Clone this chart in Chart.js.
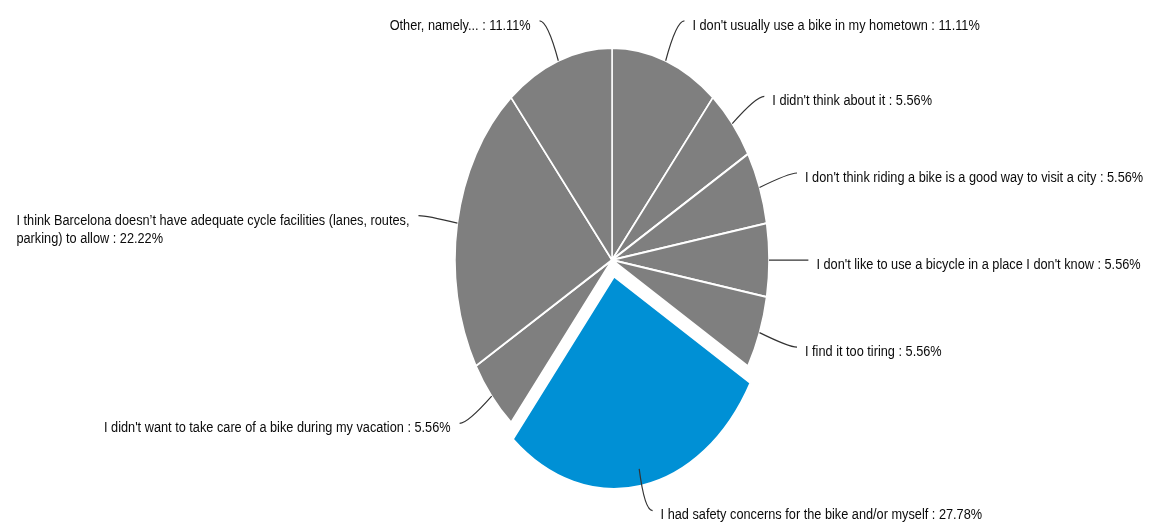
<!DOCTYPE html>
<html>
<head>
<meta charset="utf-8">
<script src="https://cdn.jsdelivr.net/npm/chart.js@4.4.1/dist/chart.umd.min.js"></script>
<style>
  html, body { margin: 0; padding: 0; background: #ffffff; }
  #wrap { width: 1152px; height: 525px; position: relative; }
</style>
</head>
<body>
<div id="wrap"><canvas id="c" width="1152" height="525"></canvas></div>
<script>
// ---- data ----
const categories = [
  "I don't usually use a bike in my hometown",
  "I didn't think about it",
  "I don't think riding a bike is a good way to visit a city",
  "I don't like to use a bicycle in a place I don't know",
  "I find it too tiring",
  "I had safety concerns for the bike and/or myself",
  "I didn't want to take care of a bike during my vacation",
  ["I think Barcelona doesn\u2019t have adequate cycle facilities (lanes, routes,", "parking) to allow"],
  "Other, namely..."
];
const percentages = [11.11, 5.56, 5.56, 5.56, 5.56, 27.78, 5.56, 22.22, 11.11];
const highlighted = [false, false, false, false, false, true, false, false, false];

// ---- styles ----
const GRAY = '#7f7f7f';
const BLUE = '#0090d5';
const Y_SCALE = 212 / 157;
const FONT = "14px 'Liberation Sans', Arial, sans-serif";
const NARROW = 0.91;

const ellipsePlugin = {
  id: 'ellipseLabels',
  beforeDatasetsDraw(chart) {
    const arc = chart.getDatasetMeta(0).data[0];
    const ctx = chart.ctx;
    ctx.save();
    ctx.translate(arc.x, arc.y);
    ctx.scale(1, Y_SCALE);
    ctx.translate(-arc.x, -arc.y);
  },
  afterDatasetsDraw(chart) {
    const ctx = chart.ctx;
    ctx.restore();
    const meta = chart.getDatasetMeta(0);
    const labels = chart.data.labels;
    const vals = chart.data.datasets[0].data;
    ctx.save();
    ctx.font = FONT;
    ctx.textBaseline = 'middle';
    meta.data.forEach((arc, i) => {
      const mid = (arc.startAngle + arc.endAngle) / 2;
      const R = arc.outerRadius;
      const pt = f => ({ x: arc.x + Math.cos(mid) * R * f, y: arc.y + Math.sin(mid) * R * f * Y_SCALE });
      const dir = Math.cos(mid) >= -1e-6 ? 1 : -1;
      const p0 = pt(1.0), p1 = pt(1.2);
      const p2 = { x: p1.x + dir * 8, y: p1.y };
      ctx.beginPath();
      ctx.strokeStyle = '#333333';
      ctx.lineWidth = 1.2;
      ctx.moveTo(p0.x, p0.y);
      ctx.quadraticCurveTo(p1.x, p1.y, p2.x, p2.y);
      ctx.stroke();
      let lines = Array.isArray(labels[i]) ? labels[i].slice() : [labels[i]];
      lines[lines.length - 1] += ' : ' + vals[i].toFixed(2) + '%';
      const widths = lines.map(l => ctx.measureText(l).width * NARROW);
      const maxW = Math.max(...widths);
      const tx = dir > 0 ? p2.x + 8 : p2.x - 9 - maxW;
      ctx.fillStyle = '#0a0a0a';
      ctx.textAlign = 'left';
      lines.forEach((l, j) => {
        ctx.save();
        ctx.translate(tx, p2.y + 5 + j * 18);
        ctx.scale(NARROW, 1);
        ctx.fillText(l, 0, 0);
        ctx.restore();
      });
    });
    ctx.restore();
  }
};

new Chart(document.getElementById('c'), {
  type: 'pie',
  data: {
    labels: categories,
    datasets: [{
      data: percentages,
      backgroundColor: highlighted.map(h => h ? BLUE : GRAY),
      borderColor: '#ffffff',
      borderWidth: 1.5,
      offset: highlighted.map(h => h ? 50 : 0),
      radius: 157
    }]
  },
  options: {
    responsive: false,
    animation: false,
    layout: { padding: { left: 72, right: 0, top: 0, bottom: 5 } },
    plugins: { legend: { display: false }, tooltip: { enabled: false } },
    events: []
  },
  plugins: [ellipsePlugin]
});
</script>
</body>
</html>
